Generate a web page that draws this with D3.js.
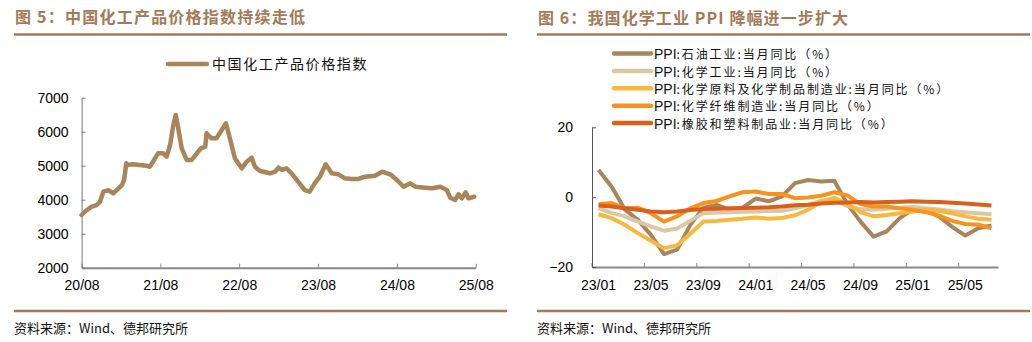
<!DOCTYPE html>
<html><head><meta charset="utf-8">
<script src="https://cdn.jsdelivr.net/npm/d3@7"></script>
<style>body{margin:0;background:#fff}svg{display:block}</style>
</head><body><svg id="c" width="1032" height="342"></svg>
<script>
// ---------- Left chart data: 中国化工产品价格指数 ----------
const indexDates = ["2020-08-01","2020-08-25","2020-09-17","2020-10-10","2020-10-25","2020-11-10","2020-12-03","2020-12-26","2021-01-11","2021-02-04","2021-02-14","2021-02-24","2021-03-04","2021-03-27","2021-04-27","2021-05-28","2021-06-13","2021-06-28","2021-07-21","2021-08-14","2021-08-30","2021-09-15","2021-09-30","2021-10-11","2021-10-20","2021-11-08","2021-12-01","2021-12-24","2022-01-17","2022-02-05","2022-02-25","2022-03-03","2022-03-26","2022-04-18","2022-05-03","2022-06-01","2022-06-19","2022-07-12","2022-08-13","2022-09-05","2022-09-28","2022-10-13","2022-11-06","2022-12-22","2023-01-15","2023-01-30","2023-02-15","2023-03-08","2023-04-01","2023-05-01","2023-06-01","2023-06-24","2023-07-17","2023-08-10","2023-09-06","2023-10-04","2023-11-04","2023-12-04","2024-01-05","2024-02-05","2024-03-06","2024-04-21","2024-05-25","2024-07-01","2024-08-01","2024-09-01","2024-10-02","2024-10-25","2024-12-10","2025-01-11","2025-02-18","2025-03-20","2025-04-05","2025-04-28","2025-05-13","2025-05-29","2025-06-16","2025-06-28","2025-07-25"];
const indexValues = [3550,3697,3794,3844,3941,4235,4285,4188,4285,4432,4580,5070,5020,5041,5020,5000,4970,5118,5365,5365,5265,5609,6197,6491,6197,5512,5168,5168,5365,5512,5560,5953,5806,5806,5953,6247,5806,5218,4924,5118,5235,4970,4844,4776,4824,4941,4874,4924,4776,4530,4285,4235,4482,4676,5041,4776,4747,4629,4609,4609,4676,4706,4824,4747,4580,4382,4482,4382,4353,4335,4382,4285,4059,3991,4159,4041,4218,4041,4088];
const leftYTicks = [2000,3000,4000,5000,6000,7000];
const leftXTicks = ["20/08","21/08","22/08","23/08","24/08","25/08"];
const leftLegend = "中国化工产品价格指数";

// ---------- Right chart data: PPI 当月同比 ----------
const months = ["23/01","23/02","23/03","23/04","23/05","23/06","23/07","23/08","23/09","23/10","23/11","23/12","24/01","24/02","24/03","24/04","24/05","24/06","24/07","24/08","24/09","24/10","24/11","24/12","25/01","25/02","25/03","25/04","25/05","25/06","25/07"];
const ppiOil      = [7.8,3.0,-3.5,-6.5,-10.8,-16.3,-15.0,-8.0,-3.0,-2.2,-3.5,-3.0,-0.4,-1.2,0.2,4.0,4.9,4.5,4.7,-2.0,-7.0,-11.3,-9.8,-6.0,-3.5,-3.8,-5.5,-8.5,-11.0,-8.9,-8.1];
const ppiChem     = [-3.2,-4.5,-5.5,-7.0,-8.4,-9.6,-9.0,-6.8,-4.6,-4.4,-4.3,-4.2,-4.1,-4.0,-3.9,-3.2,-2.2,-1.0,-1.0,-2.5,-3.5,-3.6,-3.3,-3.0,-2.8,-3.2,-3.5,-4.0,-4.3,-4.6,-4.9];
const ppiRaw      = [-4.9,-6.0,-7.9,-10.3,-12.5,-14.6,-13.8,-10.5,-7.0,-6.8,-6.5,-6.2,-5.8,-6.2,-6.0,-5.2,-3.6,-1.3,-0.2,-2.0,-4.3,-5.5,-5.1,-4.6,-4.1,-3.6,-3.9,-4.6,-5.5,-6.2,-6.5];
const ppiFiber    = [-2.0,-1.7,-3.2,-3.0,-4.6,-7.0,-5.5,-3.2,-1.7,-1.1,0.2,1.4,1.6,0.9,0.9,-0.3,-0.1,0.4,1.4,0.5,-2.0,-2.7,-2.7,-3.2,-3.6,-4.3,-5.3,-6.8,-7.7,-7.9,-8.9];
const ppiRubber   = [-2.4,-2.7,-3.2,-3.6,-4.1,-4.3,-4.1,-3.7,-3.4,-3.3,-3.2,-3.1,-3.0,-2.9,-2.7,-2.3,-2.2,-1.8,-1.6,-1.5,-1.4,-1.5,-1.4,-1.3,-1.2,-1.3,-1.4,-1.6,-1.8,-2.1,-2.4];
const seriesNames = ["PPI:石油工业:当月同比（%）","PPI:化学工业:当月同比（%）","PPI:化学原料及化学制品制造业:当月同比（%）","PPI:化学纤维制造业:当月同比（%）","PPI:橡胶和塑料制品业:当月同比（%）"];
const seriesColors = ["#A8855E","#DAC8A4","#F8B83E","#F7921C","#D95F1D"];
const rightYTicks = [-20,0,20];
const rightXTicks = ["23/01","23/05","23/09","24/01","24/05","24/09","25/01","25/05"];

const titles = ["图 5：中国化工产品价格指数持续走低","图 6：我国化学工业 PPI 降幅进一步扩大"];
const sourceText = "资料来源：Wind、德邦研究所";

const svg = d3.select("#c");
const brown = "#A47A58";
const cjk = "'Noto Sans CJK SC','Noto Sans',sans-serif";
const latin = "'Liberation Sans',Arial,sans-serif";

// ---------- headers / footers ----------
[[15,22.5,290,14,507],[538,23.5,310,537,1030]].forEach((p,i)=>{
  svg.append("text").attr("x",p[0]).attr("y",p[1]).text(titles[i])
    .attr("font-family",cjk).attr("font-weight","bold").attr("font-size",16)
    .attr("fill",brown).attr("textLength",p[2]).attr("lengthAdjust","spacing");
  svg.append("line").attr("x1",p[3]).attr("x2",p[4]).attr("y1",34.5).attr("y2",34.5)
    .attr("stroke",brown).attr("stroke-width",2.5);
  svg.append("line").attr("x1",p[3]).attr("x2",p[4]).attr("y1",311).attr("y2",311)
    .attr("stroke",brown).attr("stroke-width",2.5);
  svg.append("text").attr("x",p[3]).attr("y",333).text(sourceText)
    .attr("font-family",cjk).attr("font-size",13).attr("fill","#111");
});

function styleAxis(g, color, w){
  g.select(".domain").attr("stroke",color).attr("stroke-width",w);
  g.selectAll(".tick line").attr("stroke",color).attr("stroke-width",1);
  g.selectAll(".tick text").attr("font-family",latin).attr("font-size",14).attr("fill","#000");
}

// ---------- Left chart ----------
const parse = d3.timeParse("%Y-%m-%d");
const xL = d3.scaleTime().domain([parse("2020-08-01"),parse("2025-08-01")]).range([81.6,475.7]);
const yL = d3.scaleLinear().domain([2000,7000]).range([267.7,97.7]);
const leftTickDates = leftXTicks.map(s=>parse("20"+s.slice(0,2)+"-"+s.slice(3)+"-01"));

const gxL = svg.append("g").attr("transform",`translate(0,${yL(2000)})`)
  .call(d3.axisBottom(xL).tickValues(leftTickDates).tickSizeInner(-4).tickSizeOuter(0).tickPadding(12)
    .tickFormat((d,i)=>leftXTicks[i]));
styleAxis(gxL,"#888",2);
const gyL = svg.append("g").attr("transform",`translate(${xL.range()[0]},0)`)
  .call(d3.axisLeft(yL).tickValues(leftYTicks).tickSizeInner(-4).tickSizeOuter(0).tickPadding(13).tickFormat(d3.format("d")));
styleAxis(gyL,"#777",1);

const leftData = indexDates.map((d,i)=>({x:parse(d),y:indexValues[i]}));
svg.append("path").datum(leftData)
  .attr("d",d3.line().x(d=>xL(d.x)).y(d=>yL(d.y)))
  .attr("fill","none").attr("stroke","#A9855A").attr("stroke-width",4.5)
  .attr("stroke-linejoin","round").attr("stroke-linecap","round");

svg.append("line").attr("x1",168).attr("x2",207).attr("y1",64).attr("y2",64)
  .attr("stroke","#A9855A").attr("stroke-width",4.5).attr("stroke-linecap","round");
svg.append("text").attr("x",212).attr("y",64).attr("dy","0.35em").text(leftLegend)
  .attr("font-family",cjk).attr("font-size",14).attr("letter-spacing","1.6px").attr("fill","#111");

// ---------- Right chart ----------
const xR = d3.scaleBand().domain(months).range([592,998]).padding(0);
const yR = d3.scaleLinear().domain([-20,20]).range([267,127.3]);
const bw = xR.bandwidth();

const gxR = svg.append("g").attr("transform",`translate(0,${yR(-20)})`)
  .call(d3.axisBottom(xR).tickValues(rightXTicks).tickSizeInner(-4).tickSizeOuter(0).tickPadding(13));
gxR.selectAll(".tick line").attr("x1",-bw/2).attr("x2",-bw/2);
styleAxis(gxR,"#888",2);
const gyR = svg.append("g").attr("transform",`translate(${xR.range()[0]},0)`)
  .call(d3.axisLeft(yR).tickValues(rightYTicks).tickSizeInner(-4).tickSizeOuter(0).tickPadding(19).tickFormat(d3.format("d")));
styleAxis(gyR,"#555",1);

const allSeries = [ppiOil,ppiChem,ppiRaw,ppiFiber,ppiRubber];
const lineR = d3.line().x((d,i)=>xR(months[i])+bw/2).y(d=>yR(d));
allSeries.forEach((s,k)=>{
  svg.append("path").datum(s).attr("d",lineR)
    .attr("fill","none").attr("stroke",seriesColors[k]).attr("stroke-width",4)
    .attr("stroke-linejoin","round");
});

const legR = svg.append("g");
seriesNames.forEach((n,k)=>{
  const y = 53.5 + k*17.4;
  legR.append("line").attr("x1",614).attr("x2",651).attr("y1",y).attr("y2",y)
    .attr("stroke",seriesColors[k]).attr("stroke-width",4.5).attr("stroke-linecap","round");
  const t = legR.append("text").attr("x",654).attr("y",y).attr("dy","0.35em").attr("fill","#111");
  t.append("tspan").text(n.slice(0,3)).attr("font-family",latin).attr("font-size",14);
  t.append("tspan").text(n.slice(3)).attr("font-family",cjk).attr("font-size",12).attr("letter-spacing","1.9px");
});
</script></body></html>
